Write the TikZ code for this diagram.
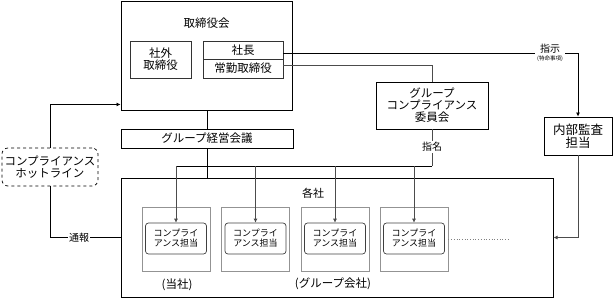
\documentclass[tikz,border=0pt]{standalone}
\usepackage{fontspec}
\setmainfont{Noto Sans CJK JP}
\usetikzlibrary{arrows.meta,calc}
\begin{document}
\begin{tikzpicture}[x=1pt,y=-1pt,
  box/.style={draw=black,line width=0.9pt,rectangle,inner sep=0pt,align=center,font=\fontsize{11.5}{14}\selectfont},
  graybox/.style={draw=gray!85,line width=0.9pt,rectangle,inner sep=0pt,minimum width=68pt,minimum height=64pt},
  inbox/.style={draw=black!75,line width=0.7pt,rectangle,rounded corners=3pt,inner sep=0pt,minimum width=61pt,minimum height=31pt,align=center,font=\fontsize{9}{13}\selectfont},
  conn/.style={draw=black!70,line width=0.7pt},
  arr/.style={conn,-{Latex[length=4pt,width=4pt]}},
  lbl/.style={fill=white,inner sep=1pt,align=center,font=\fontsize{10}{11}\selectfont},
  txt/.style={inner sep=0pt,font=\fontsize{11.5}{14}\selectfont}]
\useasboundingbox (0,0) rectangle (614,301);
% board
\node[box,minimum width=171pt,minimum height=109pt] (board) at (206.5,55.5) {};
\node[txt] (boardt) at (206.5,23) {取締役会};
\node[box,draw=black!80,line width=0.7pt,minimum width=61pt,minimum height=37pt] (shagai) at (160.5,59.5) {社外\\[-2pt]取締役};
\node[box,draw=black!80,line width=0.7pt,minimum width=80pt,minimum height=18pt] (shacho) at (243,50) {社長};
\node[box,draw=black!80,line width=0.7pt,minimum width=80pt,minimum height=19pt] (jokin) at (243,68.5) {常勤取締役};
% others
\node[box,line width=0.7pt,minimum width=112pt,minimum height=47pt] (gc) at (432,105.5) {グループ\\[-2pt]コンプライアンス\\[-2pt]委員会};
\node[box,line width=0.9pt,minimum width=68pt,minimum height=38pt,font=\fontsize{12.5}{15}\selectfont] (naibu) at (578,136) {内部監査\\[-2pt]担当};
\node[box,line width=0.7pt,minimum width=172pt,minimum height=19pt] (keiei) at (207,138.5) {グループ経営会議};
\node[box,line width=1pt,minimum width=432pt,minimum height=119pt] (kakusha) at (337,237.5) {};
\node[txt,font=\fontsize{11}{13}\selectfont] (kakushat) at (313,193) {各社};
\node[box,dashed,rounded corners=6pt,line width=0.7pt,minimum width=96pt,minimum height=38pt] (hot) at (50,167) {コンプライアンス\\[-2pt]ホットライン};
% companies
\foreach \i/\x in {1/176,2/255.5,3/335,4/414}{
  \node[graybox] (c\i) at (\x,239) {};
  \node[inbox] (in\i) at (\x,238.5) {コンプライ\\[-3pt]アンス担当};
}
\node[txt] (tosha) at (177,285) {(当社)};
\node[txt] (group) at (333,284) {(グループ会社)};
% connectors
\draw[conn,draw=black] (keiei.north) -- (keiei.north |- board.south);
\draw[conn,draw=black] (keiei.south) -- (keiei.south |- kakusha.north);
\coordinate (busL) at (176,166);
\coordinate (busR) at (432,166);
\draw[conn,draw=black] (busL) -- (busR);
\draw[conn] (gc.south) -- (busR);
\node[lbl] (shimei) at (432,147) {指名};
\foreach \i in {1,2,3,4}{
  \draw[arr] (in\i.north |- busL) -- (in\i.north);
}
\draw[arr,draw=black] ($(shacho.east)+(0,3)$) -| (naibu.north);
\node[lbl,inner sep=2pt] (shiji) at (550,53) {指示\\[-3pt]{\fontsize{5.5}{6}\selectfont (特命事項)}};
\draw[conn] ($(jokin.east)+(0,-3.5)$) -| (gc.north);
\draw[arr] (naibu.south) |- (kakusha.east);
\draw[arr,draw=black] (hot.north) |- ($(board.south west)+(0,-6)$);
\draw[conn,draw=black] (hot.south) |- (kakusha.west);
\node[lbl] (tsuho) at (79,237.5) {通報};
\coordinate (dotend) at (510,239);
\draw[draw=gray,dotted,line width=0.7pt] (c4.east) -- (dotend);
\end{tikzpicture}
\end{document}
